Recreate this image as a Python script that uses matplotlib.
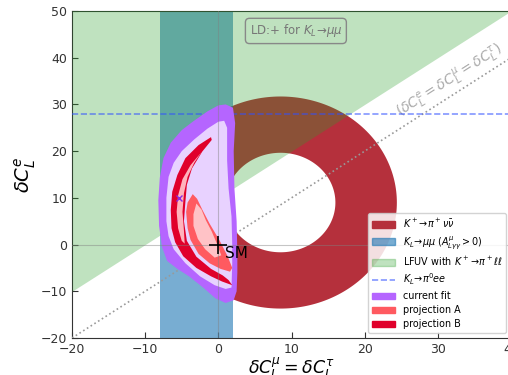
import numpy as np
import matplotlib
matplotlib.use("Agg")
import matplotlib.pyplot as plt
from matplotlib.path import Path
from matplotlib.patches import PathPatch, Patch, Polygon
from matplotlib.lines import Line2D

# ---- constraint parameters ----
kpnn_center = (8.5, 9.0)          # centre of the K+ -> pi+ nu nu allowed ring
kpnn_outer = (15.9, 22.7)         # outer semi-axes (x, y)
kpnn_inner = (7.5, 10.65)         # inner semi-axes (x, y)
klmumu_band = (-8.0, 2.0)         # K_L -> mu mu allowed interval in x
lfuv_offset = 10.0                # LFUV boundary: y = x + offset
klpi0ee_limit = 28.0              # K_L -> pi0 ee upper limit on y
best_fit = (-5.4, 9.9)
sm_point = (0.0, 0.0)

# ---- fit regions (outline vertices) ----
fit_2s_x = [1.0, 2.0, 2.3, 2.1, 2.2, 2.5, 2.6, 2.6, 2.5, 2.1, 1.0, -0.4, -2.0, -4.0, -5.6,
            -7.0, -7.7, -8.1, -8.2, -8.0, -7.5, -6.5, -5.0, -3.5, -1.5, 0.0]
fit_2s_y = [30.0, 29.3, 26.0, 20.0, 12.0, 5.0, -2.0, -6.0, -10.0, -11.9, -12.5, -11.5, -9.3, -6.8, -5.2,
            -3.5, -0.5, 4.0, 9.5, 14.3, 18.5, 21.8, 24.5, 26.3, 28.5, 29.8]
fit_1s_x = [0.8, 1.2, 1.2, 1.4, 1.8, 1.9, 1.9, 1.8, 1.0, -0.5, -2.5, -4.5, -6.1, -6.8,
            -7.1, -7.1, -6.8, -6.1, -5.0, -3.3, -1.5, 0.0]
fit_1s_y = [26.5, 25.0, 18.0, 12.0, 6.0, 0.0, -4.0, -9.2, -9.5, -8.7, -6.8, -4.0, -1.0, 1.8,
            5.0, 10.0, 14.5, 17.5, 20.0, 22.5, 24.8, 26.3]

projA_2s_x = [-3.5, -4.2, -4.4, -4.2, -3.8, -2.7, -1.2, 0.3, 1.6, 1.9, 1.3, 0.2, -1.2, -2.2, -2.9]
projA_2s_y = [10.8, 9.0, 7.0, 3.5, 1.0, -2.0, -4.0, -5.2, -5.8, -5.0, -2.6, 0.8, 4.5, 7.5, 9.8]
projA_1s_x = [-3.0, -3.4, -3.4, -2.8, -1.8, -0.5, 0.4, -0.2, -0.9, -1.7, -2.3]
projA_1s_y = [8.8, 6.5, 4.0, 1.2, -1.0, -2.8, -2.3, 0.2, 2.8, 5.2, 7.5]

projB_2s_x = [-1.0, -2.7, -4.5, -5.6, -6.3, -6.5, -6.4, -5.9, -4.8, -3.0, -1.0, 0.5, 1.9,
              1.4, 0.6, -1.0, -3.0, -4.3, -4.7, -4.5, -4.3, -3.6, -2.2, -0.9]
projB_2s_y = [23.0, 21.3, 18.5, 14.9, 11.3, 7.4, 3.5, 0.5, -2.5, -5.0, -6.8, -7.9, -8.7,
              -7.6, -6.6, -5.2, -2.6, 0.8, 5.0, 9.2, 12.8, 16.3, 19.9, 22.4]
projB_1s_x = [-2.3, -3.8, -4.9, -5.5, -5.7, -5.5, -5.0, -4.6, -4.7, -4.9, -4.7, -4.2, -3.3]
projB_1s_y = [19.8, 17.0, 14.0, 10.5, 7.0, 3.5, 0.8, 0.2, 3.0, 7.0, 11.0, 14.5, 17.5]

xlim = (-20, 40)
ylim = (-20, 50)
xticks = [-20, -10, 0, 10, 20, 30, 40]
yticks = [-20, -10, 0, 10, 20, 30, 40, 50]

c_kpnn = '#b5303c'
c_klmm = 'tab:blue'
c_lfuv = 'tab:green'
c_fit2, c_fit1 = '#b565ff', '#e8d2ff'
c_A2, c_A1 = '#ff5a60', '#ffc2c6'
c_B2, c_B1 = '#e0002b', '#ffb3bd'

fig = plt.figure(figsize=(5.08, 3.75), dpi=100)
ax = fig.add_axes([72 / 508, 37 / 375, 439 / 508, 327 / 375])

# K+ -> pi+ nu nu ring (elliptical annulus)
t = np.linspace(0, 2 * np.pi, 240)
cx, cy = kpnn_center
outer = np.column_stack([cx + kpnn_outer[0] * np.cos(t), cy + kpnn_outer[1] * np.sin(t)])
inner = np.column_stack([cx + kpnn_inner[0] * np.cos(t[::-1]), cy + kpnn_inner[1] * np.sin(t[::-1])])
verts = np.vstack([outer, inner])
codes = np.full(len(verts), Path.LINETO)
codes[0] = Path.MOVETO
codes[len(outer)] = Path.MOVETO
ax.add_patch(PathPatch(Path(verts, codes), facecolor=c_kpnn, edgecolor='none', zorder=1))

# K_L -> mu mu band
ax.axvspan(*klmumu_band, color=c_klmm, alpha=0.6, lw=0, zorder=2)

# LFUV region
xs = np.array(xlim, dtype=float)
ax.fill_between(xs, xs + lfuv_offset, ylim[1] + 10, color=c_lfuv, alpha=0.3, lw=0, zorder=3)

# lepton-universal direction
ax.plot(xs, xs, ls=':', color='#999999', lw=1.2, zorder=4)
ax.text(31.6, 35.0, r'$(\delta C_L^e = \delta C_L^\mu = \delta C_L^\tau)$', color='#aaaaaa',
        fontsize=10, rotation=45, rotation_mode='anchor', transform_rotates_text=True,
        ha='center', va='center', zorder=4)

# K_L -> pi0 ee limit
ax.axhline(klpi0ee_limit, ls='--', color='#3050ff', alpha=0.6, lw=1.2, zorder=4)

# fit regions
def region(xv, yv, color, z):
    ax.add_patch(Polygon(np.column_stack([xv, yv]), closed=True, facecolor=color,
                         edgecolor='none', zorder=z))

region(fit_2s_x, fit_2s_y, c_fit2, 5)
region(fit_1s_x, fit_1s_y, c_fit1, 5.1)
region(projA_2s_x, projA_2s_y, c_A2, 6)
region(projA_1s_x, projA_1s_y, c_A1, 6.1)
region(projB_2s_x, projB_2s_y, c_B2, 7)
region(projB_1s_x, projB_1s_y, c_B1, 7.1)

ax.plot(*best_fit, marker='x', color='#8a2be2', ms=4, mew=1, zorder=9)

# zero lines
ax.axhline(0, color='gray', lw=0.8, alpha=0.45, zorder=8)
ax.axvline(0, color='gray', lw=0.8, alpha=0.45, zorder=8)

# SM point
ax.plot(*sm_point, marker='+', color='black', ms=13, mew=1.2, zorder=10)
ax.text(sm_point[0] + 0.9, sm_point[1] - 0.4, 'SM', fontsize=11, ha='left', va='top', zorder=10)

ax.text(0.51, 0.939, r'LD:+ for $K_L\!\to\!\mu\mu$', transform=ax.transAxes, ha='center',
        va='center', fontsize=8.5, color='#777777', zorder=10,
        bbox=dict(boxstyle='round,pad=0.35', fc='none', ec='#888888', lw=1.0))

ax.set_xlim(*xlim)
ax.set_ylim(*ylim)
ax.set_xticks(xticks)
ax.set_yticks(yticks)
ax.tick_params(direction='in', labelsize=9, colors='#333333', length=4)
for s in ax.spines.values():
    s.set_color('#333333')
ax.set_xlabel(r'$\delta C_L^\mu = \delta C_L^\tau$', fontsize=12.5, labelpad=0)
ax.set_ylabel(r'$\delta C_L^e$', fontsize=14, labelpad=2)

handles = [
    Patch(facecolor=c_kpnn, edgecolor=c_kpnn, label=r'$K^+\!\to\!\pi^+\nu\bar\nu$'),
    Patch(facecolor=c_klmm, edgecolor=c_klmm, alpha=0.6, label=r'$K_L\!\to\!\mu\mu\ (A^\mu_{L\gamma\gamma}>0)$'),
    Patch(facecolor=c_lfuv, edgecolor=c_lfuv, alpha=0.3, label=r'LFUV with $K^+\!\to\!\pi^+\ell\ell$'),
    Line2D([], [], ls='--', color='#3050ff', alpha=0.6, lw=1.2, label=r'$K_L\!\to\!\pi^0 ee$'),
    Patch(facecolor=c_fit2, edgecolor=c_fit2, label='current fit'),
    Patch(facecolor=c_A2, edgecolor=c_A2, label='projection A'),
    Patch(facecolor=c_B2, edgecolor=c_B2, label='projection B'),
]
leg = ax.legend(handles=handles, loc='lower right', fontsize=6.9, handlelength=2.4,
                labelspacing=0.42, framealpha=0.85)
leg.set_zorder(11)

fig.savefig('out.png', dpi=100)
